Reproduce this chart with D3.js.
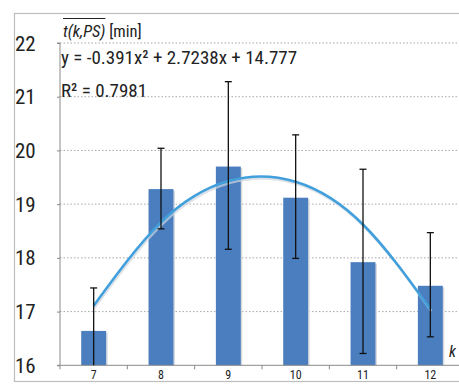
<!DOCTYPE html>
<html><head><meta charset="utf-8">
<script src="https://cdn.jsdelivr.net/npm/d3@7/dist/d3.min.js"></script>
<style>
body{margin:0;background:#fff;}
svg{display:block;}
text{font-family:"Liberation Sans Narrow","Roboto Condensed","Open Sans",sans-serif;}
</style></head>
<body>
<svg id="c" width="459" height="384"></svg>
<script>
const categories = [7, 8, 9, 10, 11, 12];
const means = [16.64, 19.28, 19.70, 19.12, 17.92, 17.48];
const errLow = [15.84, 18.54, 18.16, 17.99, 16.22, 16.53];
const errHigh = [17.44, 20.04, 21.28, 20.29, 19.65, 18.47];
const trendValues = [17.110, 18.661, 19.429, 19.416, 18.621, 17.044];
const yTicks = [16, 17, 18, 19, 20, 21, 22];
const yTitle = "t(k,PS)";
const yUnit = " [min]";
const eqText = "y = -0.391x² + 2.7238x + 14.777";
const r2Text = "R² = 0.7981";
const xTitle = "k";

(function(){
const svg = d3.select("#c");
const W = 459;
const pL = 60, pR = 464, pT = 43, pB = 365.3;

// frame
svg.append("rect").attr("x",14.5).attr("y",13.5).attr("width",W+20).attr("height",368)
  .attr("fill","#fff").attr("stroke","#bdbdbd").attr("stroke-width",1.2);

const x = d3.scaleBand().domain(categories).range([pL,pR]).paddingInner(0.63).paddingOuter(0.315);
const y = d3.scaleLinear().domain([16,22]).range([pB,pT]);
const step = x.step();
const xc = d => x(d) + x.bandwidth()/2;

// gridlines
svg.append("g").selectAll("line").data(yTicks.filter(t=>t>16)).join("line")
  .attr("x1",pL).attr("x2",W).attr("y1",d=>y(d)).attr("y2",d=>y(d))
  .attr("stroke","#a8a8a8").attr("stroke-width",1).attr("stroke-dasharray","1.5,2");

// y axis
const yAxis = d3.axisLeft(y).tickValues(yTicks).tickSize(3).tickFormat("");
const ya = svg.append("g").attr("transform",`translate(${pL},0)`).call(yAxis);
ya.select(".domain").attr("stroke","#8a8a8a").attr("d",`M-3,${pT}H0V${pB}`);
ya.selectAll(".tick line").attr("stroke","#8a8a8a");

svg.append("g").selectAll("text").data(yTicks).join("text")
  .attr("x",15).attr("y",d=>y(d)+7.5).attr("font-size",21).attr("fill","#222")
  .text(d=>d);

// bars shadow + bars
const bars = svg.append("g");
bars.selectAll("rect.sh").data(categories).join("rect").attr("class","sh")
  .attr("x",d=>x(d)+1.5).attr("width",x.bandwidth())
  .attr("y",(d,i)=>y(means[i])+1.5).attr("height",(d,i)=>pB-y(means[i])-1.5)
  .attr("fill","#d6d9de");
bars.selectAll("rect.b").data(categories).join("rect").attr("class","b")
  .attr("x",d=>x(d)).attr("width",x.bandwidth())
  .attr("y",(d,i)=>y(means[i])).attr("height",(d,i)=>pB-y(means[i]))
  .attr("fill","#4a7ebf");

// x axis
const xa = svg.append("g");
xa.append("line").attr("x1",pL-3).attr("x2",W).attr("y1",pB).attr("y2",pB)
  .attr("stroke","#8a8a8a").attr("stroke-width",1);
xa.selectAll("line.t").data(d3.range(categories.length+1)).join("line").attr("class","t")
  .attr("x1",i=>pL+i*step).attr("x2",i=>pL+i*step)
  .attr("y1",pB).attr("y2",pB+4).attr("stroke","#8a8a8a");
xa.selectAll("text").data(categories).join("text")
  .attr("x",d=>xc(d)).attr("y",378.5).attr("text-anchor","middle")
  .attr("font-size",12).attr("fill","#222").text(d=>d);

// trend line
const line = d3.line().x((d,i)=>xc(categories[i])).y(d=>y(d)).curve(d3.curveNatural);
svg.append("path").datum(trendValues).attr("d",line).attr("transform","translate(1,2)")
  .attr("fill","none").attr("stroke","#d0d6de").attr("stroke-width",2.5).attr("opacity",0.7);
svg.append("path").datum(trendValues).attr("d",line)
  .attr("fill","none").attr("stroke","#41a0dc").attr("stroke-width",2.6);

// error bars
const eb = svg.append("g").attr("stroke","#111").attr("stroke-width",1.3);
eb.selectAll("line.v").data(categories).join("line").attr("class","v")
  .attr("x1",d=>xc(d)).attr("x2",d=>xc(d))
  .attr("y1",(d,i)=>Math.min(y(errLow[i]),pB)).attr("y2",(d,i)=>y(errHigh[i]));
eb.selectAll("line.hi").data(categories).join("line").attr("class","hi")
  .attr("x1",d=>xc(d)-3.5).attr("x2",d=>xc(d)+3.5)
  .attr("y1",(d,i)=>y(errHigh[i])).attr("y2",(d,i)=>y(errHigh[i]));
eb.selectAll("line.lo").data(categories.filter((d,i)=>errLow[i]>=16)).join("line").attr("class","lo")
  .attr("x1",d=>xc(d)-3.5).attr("x2",d=>xc(d)+3.5)
  .attr("y1",d=>y(errLow[categories.indexOf(d)])).attr("y2",d=>y(errLow[categories.indexOf(d)]));

// title
const tt = svg.append("text").attr("x",63).attr("y",37).attr("font-size",16.5).attr("fill","#222");
tt.append("tspan").attr("font-style","italic").text(yTitle);
tt.append("tspan").text(yUnit);
const tw = tt.select("tspan").node().getComputedTextLength();
svg.append("line").attr("x1",63).attr("x2",63+tw).attr("y1",18.5).attr("y2",18.5)
  .attr("stroke","#222").attr("stroke-width",1.2);

svg.append("text").attr("x",61).attr("y",64).attr("font-size",19).attr("fill","#222").text(eqText);
svg.append("text").attr("x",61).attr("y",97).attr("font-size",19).attr("fill","#222").text(r2Text);

svg.append("text").attr("x",449).attr("y",357).attr("font-size",16).attr("font-style","italic")
  .attr("fill","#222").text(xTitle);
})();
</script>
</body></html>
